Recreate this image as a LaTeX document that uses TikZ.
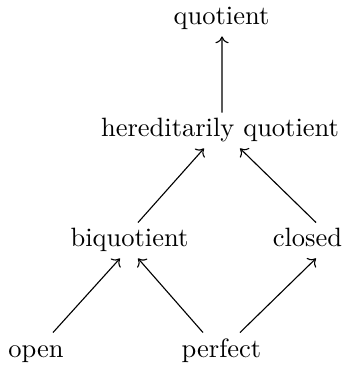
\documentclass[tikz,border=0pt]{standalone}
\usetikzlibrary{arrows.meta}
\begin{document}
\begin{tikzpicture}[
  x=0.3774pt, y=-0.3774pt,
  entry/.style={anchor=base, inner xsep=2pt, inner ysep=2.1pt,
                text height=6.94pt, text depth=2pt},
  imp/.style={-{Computer Modern Rightarrow[length=2.6pt,width=5pt]}, line width=0.42pt}
]
\useasboundingbox (0,0) rectangle (347,365);

% entries of the diagram
\node[entry] (quot)    at (221.5,25)  {quotient};
\node[entry] (hered)   at (220,137)   {hereditarily quotient};
\node[entry] (biq)     at (129.5,247) {biquotient};
\node[entry] (closed)  at (307.5,247) {closed};
\node[entry] (open)    at (36,357)    {open};
\node[entry] (perfect) at (221.5,357) {perfect};

% implications
\draw[imp] ([shift={(2,0)}]hered.north)      -- ([shift={(0.5,0)}]quot.south);
\draw[imp] ([shift={(8.5,0)}]biq.north)      -- ([shift={(-16,0)}]hered.south);
\draw[imp] ([shift={(8.5,0)}]closed.north)   -- ([shift={(20,0)}]hered.south);
\draw[imp] ([shift={(17,0)}]open.north)      -- ([shift={(-9.5,0)}]biq.south);
\draw[imp] ([shift={(-18.5,0)}]perfect.north) -- ([shift={(8.5,0)}]biq.south);
\draw[imp] ([shift={(18.5,0)}]perfect.north)  -- ([shift={(8.5,0)}]closed.south);
\end{tikzpicture}
\end{document}
